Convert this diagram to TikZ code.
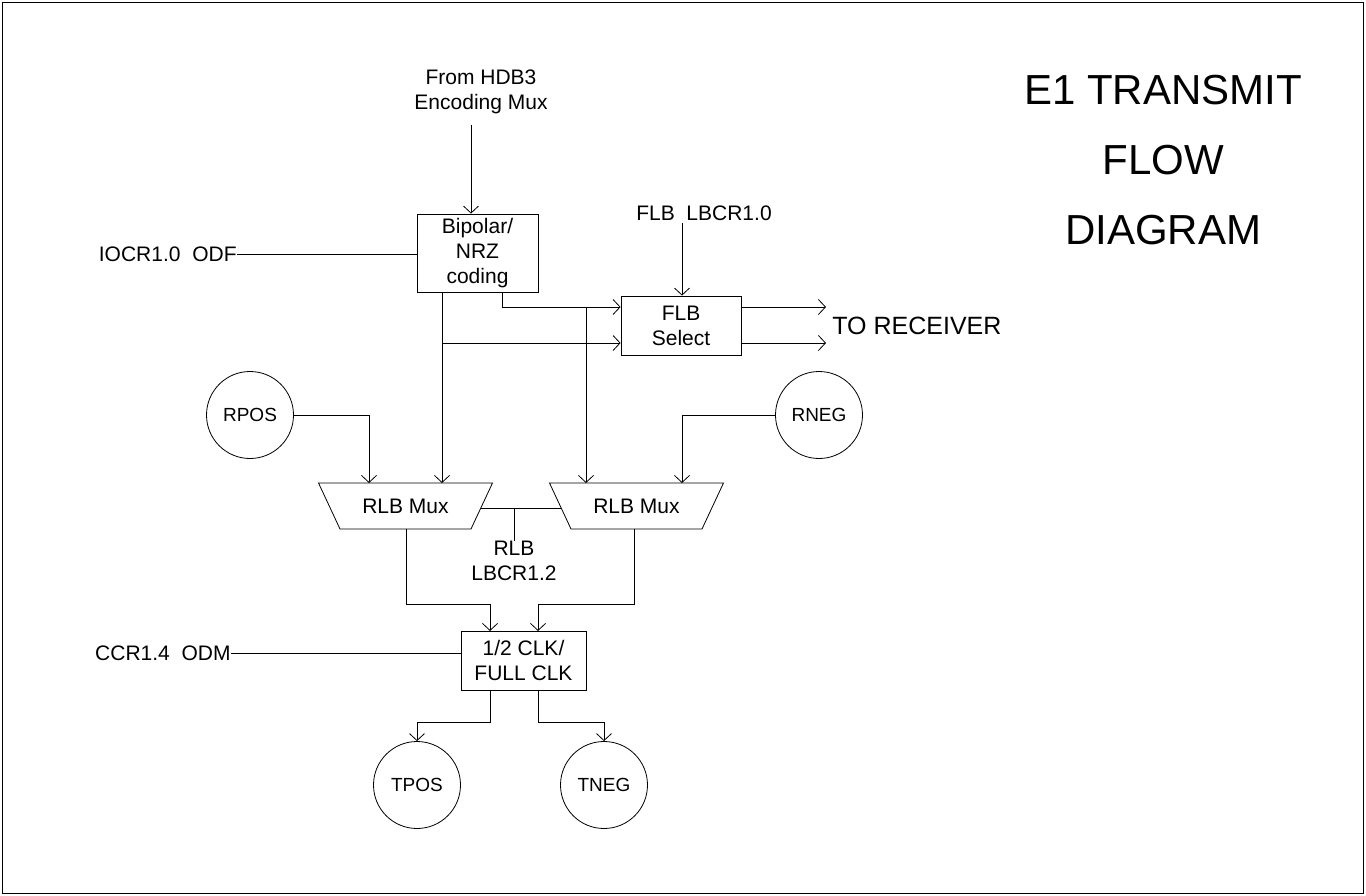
\documentclass[tikz,border=0pt]{standalone}
\usepackage{fontspec}
\setmainfont{Liberation Sans}
\usetikzlibrary{arrows.meta}
\begin{document}
\begin{tikzpicture}[x=1pt,y=-1pt,
  every path/.style={line width=0.8pt},
  conn/.style={draw,line width=0.8pt,-{Straight Barb[length=7pt,width=15pt,line width=0.8pt]}},
  plain/.style={draw,line width=0.8pt},
  box/.style={draw,line width=0.8pt,inner sep=0pt,align=center,font=\fontsize{21}{25}\selectfont},
  lbl/.style={inner sep=0pt,align=center,font=\fontsize{21}{25}\selectfont},
  circ/.style={draw,circle,minimum size=87pt,inner sep=0pt,font=\fontsize{19}{22}\selectfont},
  title/.style={inner sep=0pt,align=center,font=\fontsize{42}{70}\selectfont}]
\useasboundingbox (0,0) rectangle (1366,896);
\draw (2.5,2.5) rectangle (1363.5,893.5);

% title
\node[title] (title) at (1163,160) {E1 TRANSMIT\\FLOW\\DIAGRAM};

% texts
\node[lbl] (hdb) at (481,92) {From HDB3\\Encoding Mux};
\node[lbl,anchor=east] (iocr) at (237,254) {IOCR1.0\ \ ODF};
\node[lbl] (flbctl) at (704,213) {FLB\ \ LBCR1.0};
\node[lbl,anchor=west,font=\fontsize{25}{28}\selectfont] (torx) at (832,326) {TO RECEIVER};
\node[lbl] (rlbctl) at (514,561) {RLB\\LBCR1.2};
\node[lbl,anchor=east] (ccr) at (231,653) {CCR1.4\ \ ODM};

% boxes
\node[box,minimum width=121pt,minimum height=78pt] (bip) at (477.5,253) {Bipolar/\\NRZ\\coding};
\node[box,minimum width=120pt,minimum height=59pt] (flb) at (681,325.5) {FLB\\Select};
\node[box,minimum width=125pt,minimum height=59pt] (clk) at (523.5,660.5) {1/2 CLK/\\FULL CLK};

% circles
\node[circ] (rpos) at (250,415) {RPOS};
\node[circ] (rneg) at (819,415) {RNEG};
\node[circ] (tpos) at (417,785) {TPOS};
\node[circ] (tneg) at (604,785) {TNEG};

% muxes
\node[lbl] (mux1) at (405.5,506) {RLB Mux};
\node[lbl] (mux2) at (636.5,506) {RLB Mux};
\draw (318.5,483) -- (492.5,483) -- (471,529) -- (340,529) -- cycle;
\draw (549.5,483) -- (723.5,483) -- (702,529) -- (571,529) -- cycle;
\coordinate (m1r) at (481,508);
\coordinate (m2l) at (561,508);
\coordinate (rlbj) at (514,508);

% connectors
\coordinate (hdbs) at (471,125);
\draw[conn] (hdbs) -- (hdbs |- bip.north);
\draw[plain] (iocr.east) -- (iocr.east -| bip.west);
\coordinate (flbs) at (682,223);
\draw[conn] (flbs) -- (flbs |- flb.north);
\coordinate (b1) at (502,292);
\coordinate (f1) at (621,307);
\coordinate (f2) at (621,343);
\coordinate (o1) at (826,307);
\coordinate (o2) at (826,343);
\draw[conn] (b1) -- (502,307) -- (f1 -| flb.west);
\draw[conn] (442,292) -- (442,483);
\draw[conn] (442,343) -- (f2 -| flb.west);
\draw[conn] (586,307) -- (586,483);
\draw[conn] (f1 -| flb.east) -- (o1);
\draw[conn] (f2 -| flb.east) -- (o2);

\draw[conn] (rpos.east) -- (369,415) -- (369,483);
\draw[conn] (rneg.west) -- (682,415) -- (682,483);

\draw[plain] (m1r) -- (m2l);
\draw[plain] (rlbj) -- (514,541);

\draw[conn] (406,529) -- (406,604) -- (490,604) -- (490,631);
\draw[conn] (634,529) -- (634,604) -- (538,604) -- (538,631);
\draw[plain] (ccr.east) -- (ccr.east -| clk.west);

\draw[conn] (490,690) -- (490,722) -- (417,722) -- (tpos.north);
\draw[conn] (538,690) -- (538,722) -- (604,722) -- (tneg.north);
\end{tikzpicture}
\end{document}
